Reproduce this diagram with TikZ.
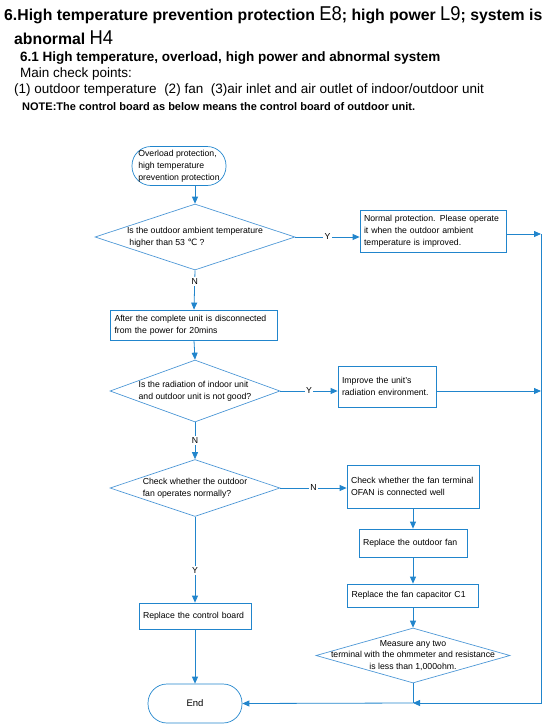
\documentclass[tikz,border=0pt]{standalone}
\usepackage{fontspec}
\usepackage{graphicx}
\setmainfont{Liberation Sans}
\newfontfamily\symfont{DejaVu Sans}
\usetikzlibrary{shapes.geometric,arrows.meta}

\definecolor{flowblue}{RGB}{33,133,204}
\definecolor{diablue}{RGB}{78,152,214}

\newcommand{\flowfont}{\fontsize{8.7}{11.8}\selectfont}
\newcommand{\segcode}[1]{{\fontseries{m}\fontsize{20}{20}\selectfont\scalebox{0.92}[1]{#1}}}

\tikzset{
  flow/.style={draw=flowblue, line width=0.8pt},
  arr/.style={flow, -{Triangle[length=7pt,width=6pt]}},
  procbox/.style={draw=flowblue, line width=0.8pt, inner sep=4pt, align=left, font=\flowfont},
  decision/.style={diamond, draw=diablue, line width=0.7pt, inner sep=0pt},
  qtext/.style={align=left, font=\flowfont, inner sep=0pt},
  terminal/.style={draw=flowblue, line width=0.7pt, rounded corners=19pt, minimum width=94pt, minimum height=39pt, align=left, font=\flowfont},
  yn/.style={fill=white, inner sep=1.5pt, font=\flowfont},
  head/.style={anchor=base west, inner sep=0pt},
}

\begin{document}
\begin{tikzpicture}[x=1pt,y=-1pt]
  \useasboundingbox (0,0) rectangle (553,728);

  % Heading
  \node[head, font=\fontsize{15.8}{18}\selectfont\bfseries] (title) at (4,20)
    {6.High temperature prevention protection \segcode{E8}; high power \segcode{L9}; system is};
  \node[head, font=\fontsize{15.8}{18}\selectfont\bfseries] (title2) at (14,44) {abnormal \segcode{H4}};
  \node[head, font=\fontsize{13.5}{15}\selectfont\bfseries] (sec) at (20,61)
    {6.1 High temperature, overload, high power and abnormal system};
  \node[head, font=\fontsize{13.5}{15}\selectfont] (points) at (20,77) {Main check points:};
  \node[head, font=\fontsize{13.5}{15}\selectfont] (items) at (14,93)
    {(1) outdoor temperature\ \ (2) fan\ \ (3)air inlet and air outlet of indoor/outdoor unit};
  \node[head, font=\fontsize{11}{12}\selectfont\bfseries] (note) at (22,110)
    {NOTE:The control board as below means the control board of outdoor unit.};

  % Main column
  \node[terminal] (start) at (179,166) {Overload protection,\\high temperature\\prevention protection};
  \node[decision, minimum width=200pt, minimum height=66pt] (q1) at (195,237) {};
  \node[qtext] at (q1) {Is the outdoor ambient temperature\\\ higher than 53 {\symfont ℃} ?};
  \node[procbox, text width=159pt, minimum height=30pt] (discon) at (194,325)
    {After the complete unit is disconnected\\from the power for 20mins};
  \node[decision, minimum width=170pt, minimum height=62pt] (q2) at (195,391) {};
  \node[qtext] at (q2) {Is the radiation of indoor unit\\and outdoor unit is not good?};
  \node[decision, minimum width=170pt, minimum height=57pt] (q3) at (195,488) {};
  \node[qtext] at (q3) {Check whether the outdoor\\fan operates normally?};
  \node[procbox, text width=104pt, minimum height=26pt] (ctrl) at (195,616) {Replace the control board};
  \node[terminal, align=center, font=\fontsize{9.5}{11}\selectfont] (end) at (195,703.5) {End};

  % Right column
  \node[procbox, text width=138pt, minimum height=42pt] (normal) at (433,231)
    {Normal protection. Please operate\\it when the outdoor ambient\\temperature is improved.};
  \node[procbox, text width=90pt, minimum height=41pt] (improve) at (387,386.5)
    {Improve the unit's\\radiation environment.};
  \node[procbox, text width=124pt, minimum height=43pt] (checkfan) at (413,486.5)
    {Check whether the fan terminal\\OFAN is connected well};
  \node[procbox, text width=100pt, minimum height=28pt] (replfan) at (413,543) {Replace the outdoor fan};
  \node[procbox, text width=123pt, minimum height=23pt] (capac) at (413,595.5) {Replace the fan capacitor C1};
  \node[decision, minimum width=194pt, minimum height=55pt] (q4) at (413,655.5) {};
  \node[qtext, align=center] at (q4) {Measure any two\\terminal with the ohmmeter and resistance\\is less than 1,000ohm.};

  % Collecting line
  \coordinate (bustop) at (541,234);
  \coordinate (busbot) at (541,703);
  \coordinate (join) at (413,703);

  % Connectors
  \draw[arr] (start.south -| q1.north) -- (q1.north);
  \draw[arr] (q1.east) -- (q1.east -| normal.west) node[yn, midway] {Y};
  \draw[arr] (q1.south) -- (discon.north) node[yn, pos=0.28] {N};
  \draw[arr] (discon.south) -- (q2.north);
  \draw[arr] (q2.east) -- (q2.east -| improve.west) node[yn, midway] {Y};
  \draw[arr] (q2.south) -- (q3.north) node[yn, midway] {N};
  \draw[arr] (q3.east) -- (q3.east -| checkfan.west) node[yn, midway] {N};
  \draw[arr] (q3.south) -- (ctrl.north) node[yn, pos=0.62] {Y};
  \draw[arr] (ctrl.south) -- (end.north);
  \draw[arr] (checkfan.south) -- (replfan.north);
  \draw[arr] (replfan.south) -- (capac.north);
  \draw[arr] (capac.south) -- (q4.north);
  \draw[arr] (normal.east |- bustop) -- (bustop);
  \draw[arr] (improve.east |- q2.east) -- (q2.east -| bustop);
  \draw[arr] (bustop) -- (busbot) -- (join);
  \draw[flow] (q4.south) -- (join);
  \draw[arr] (join) -- (end.east);

\end{tikzpicture}
\end{document}
